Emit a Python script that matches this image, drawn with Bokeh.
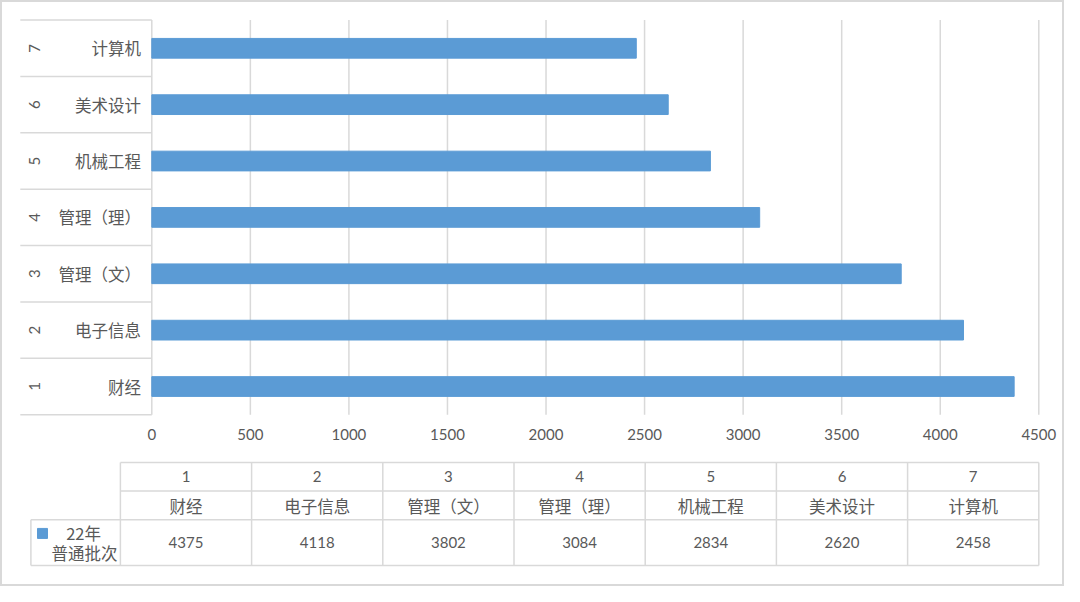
import math
from bokeh.plotting import figure
from bokeh.models import Range1d, FixedTicker
from bokeh.layouts import column
from bokeh.embed import file_html
from bokeh.resources import INLINE
from bokeh.core.properties import value

# ---- data ----
ranks = ["1", "2", "3", "4", "5", "6", "7"]
majors = ["财经", "电子信息", "管理（文）", "管理（理）", "机械工程", "美术设计", "计算机"]
scores = [4375, 4118, 3802, 3084, 2834, 2620, 2458]
series_label = ["22年", "普通批次"]
x_ticks = [0, 500, 1000, 1500, 2000, 2500, 3000, 3500, 4000, 4500]

# ---- style ----
BAR = "#5B9BD5"
TXT = "#595959"
LINE = "#d9d9d9"
CJK = "Noto Sans CJK SC"
NUM = "Lato"
W = 1064
HA = 450
HB = 136

pos = list(range(1, len(majors) + 1))

# ---- chart ----
pA = figure(width=W, height=HA, title=None,
            x_range=Range1d(-747.3, 4518.8),
            y_range=Range1d(0.4326, 7.5639),
            x_axis_location="below", y_axis_location=None,
            toolbar_location=None, output_backend="svg",
            min_border_left=4, min_border_right=22,
            min_border_top=16, min_border_bottom=32)
pA.outline_line_color = None
pA.background_fill_alpha = 0
pA.border_fill_alpha = 0
pA.xgrid.visible = False
pA.ygrid.visible = False

# vertical grid lines (incl. the value axis at 0)
pA.multi_line(xs=[[t, t] for t in x_ticks], ys=[[0.5, 7.5] for t in x_ticks],
              line_color=LINE, line_width=1.5)

pA.hbar(y=pos, left=0, right=scores, height=0.35, color=BAR)

ax = pA.xaxis[0]
ax.ticker = FixedTicker(ticks=x_ticks)
ax.axis_line_color = None
ax.major_tick_line_color = None
ax.minor_tick_line_color = None
ax.major_tick_out = 0
ax.major_label_standoff = 10
ax.major_label_text_font = NUM
ax.major_label_text_font_size = "15px"
ax.major_label_text_color = TXT

# category-label box separators (thin filled strips)
label_left = -667.1
half = 0.0133
bounds = [p - 0.5 for p in pos] + [pos[-1] + 0.5]
pA.quad(left=[label_left] * len(bounds), right=[0] * len(bounds),
        bottom=[b - half for b in bounds], top=[b + half for b in bounds],
        fill_color=LINE, line_color=None)

pA.text(x=[-55.3] * len(pos), y=pos, text=majors, text_align="right",
        text_baseline="middle", text_font=value(CJK),
        text_font_size="16.5px", text_color=TXT)
pA.text(x=[-594.6] * len(pos), y=pos, text=ranks, angle=math.pi / 2,
        text_align="center", text_baseline="middle", text_font=value(NUM),
        text_font_size="15px", text_color=TXT)

# ---- data table ----
pB = figure(width=W, height=HB, title=None,
            x_range=Range1d(-0.8834, 7.0282), y_range=Range1d(4.3357, -0.4196),
            x_axis_location=None, y_axis_location=None,
            toolbar_location=None, output_backend="svg",
            min_border_left=4, min_border_right=22,
            min_border_top=0, min_border_bottom=0)
pB.outline_line_color = None
pB.grid.visible = False
pB.background_fill_alpha = 0
pB.border_fill_alpha = 0

n = len(majors)
head_left = -0.6822
row_edges = [0, 1, 2, 3.6]
row_starts = [0, 0, head_left, head_left]
tbl_xs = [[s, n] for s in row_starts] + [[c, c] for c in range(n + 1)] + [[head_left, head_left]]
tbl_ys = [[r, r] for r in row_edges] + [[0, 3.6] for c in range(n + 1)] + [[2, 3.6]]
pB.multi_line(xs=tbl_xs, ys=tbl_ys, line_color=LINE, line_width=1.5)

cx = [i + 0.5 for i in range(n)]
pB.text(x=cx, y=[0.49] * n, text=ranks, text_align="center", text_baseline="middle",
        text_font=value(NUM), text_font_size="15px", text_color=TXT)
pB.text(x=cx, y=[1.52] * n, text=majors, text_align="center", text_baseline="middle",
        text_font=value(CJK), text_font_size="16.5px", text_color=TXT)
pB.text(x=cx, y=[2.79] * n, text=[str(s) for s in scores], text_align="center",
        text_baseline="middle", text_font=value(NUM), text_font_size="15px",
        text_color=TXT)

pB.scatter(x=[-0.5937], y=[2.48], marker="square", size=10, color=BAR)
pB.text(x=[-0.2805, -0.2736], y=[2.45, 3.17], text=series_label, text_align="center",
        text_baseline="middle", text_font=value(CJK), text_font_size="16.5px",
        text_color=TXT)

layout = column(pA, pB, styles={"box-shadow": "inset 0 0 0 2px #d9d9d9",
                                "background-color": "white"})

open("out.html", "w").write(file_html(layout, INLINE))
